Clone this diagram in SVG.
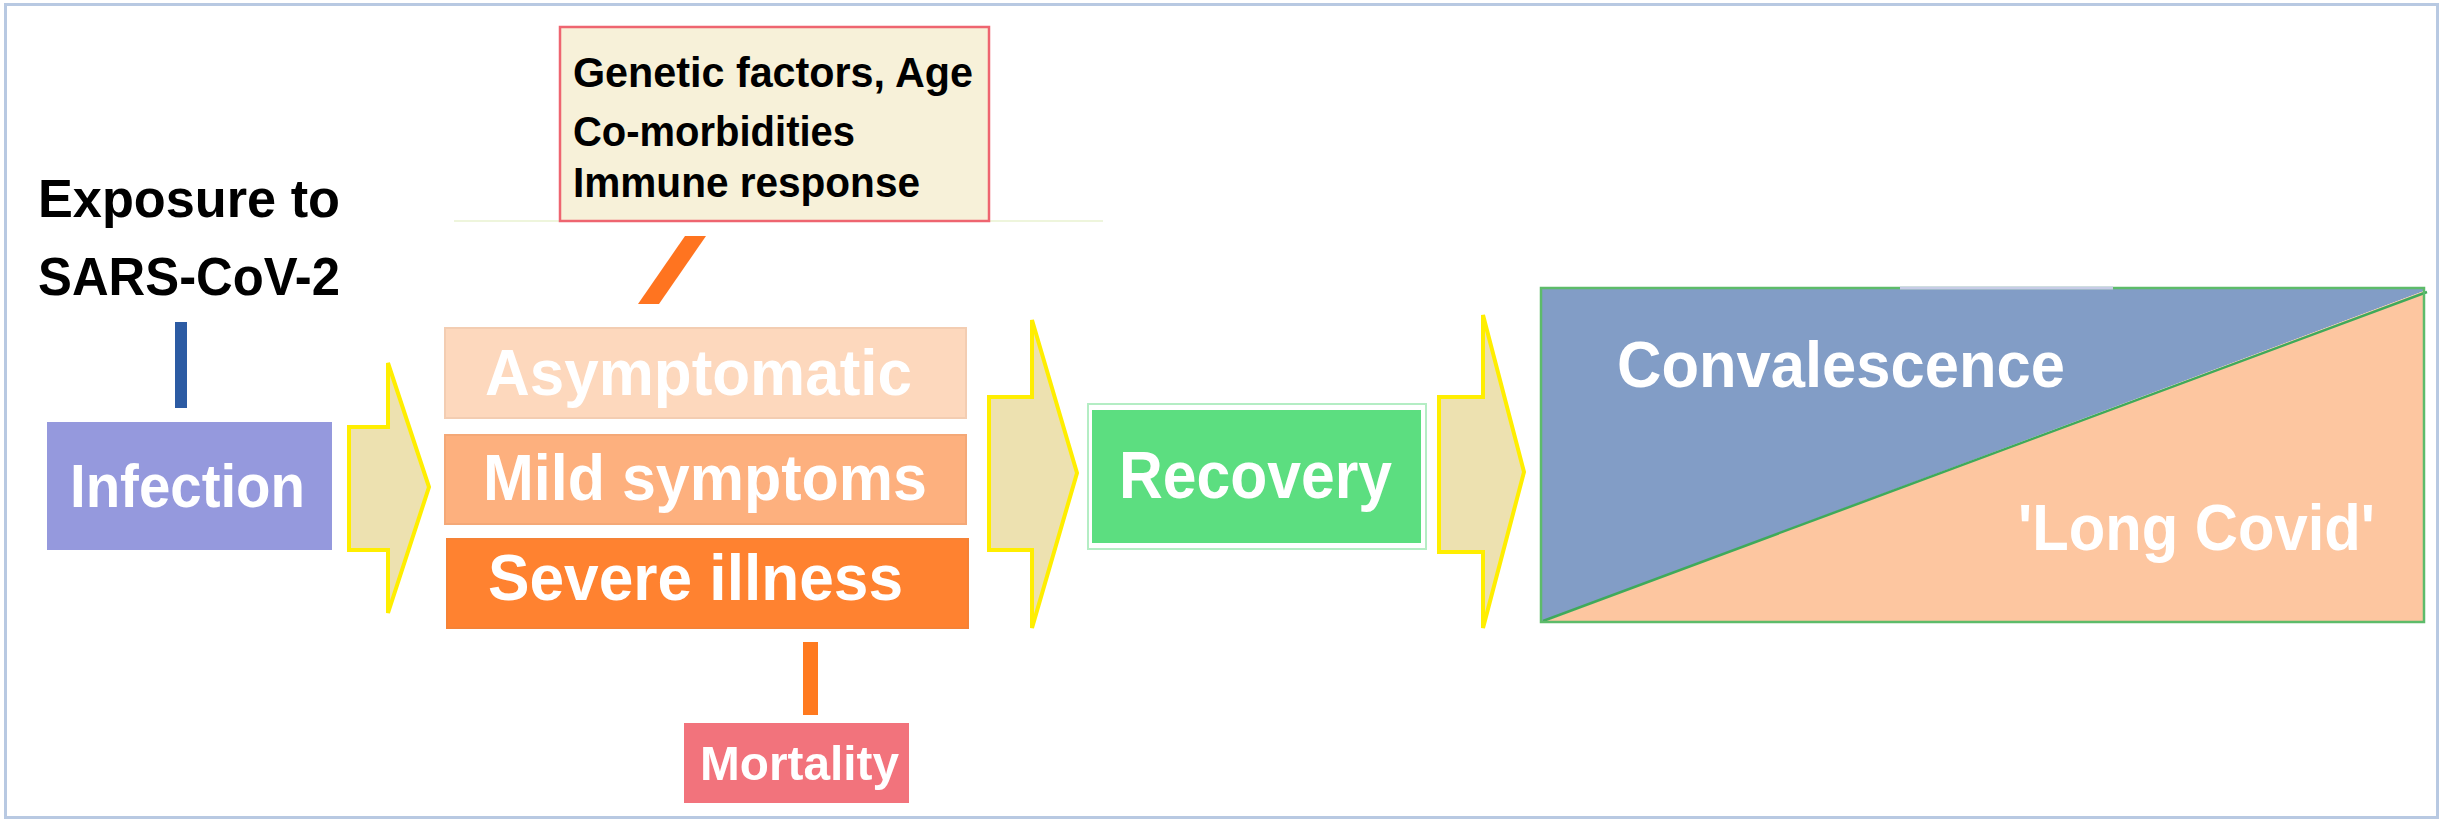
<svg xmlns="http://www.w3.org/2000/svg" width="2453" height="821" viewBox="0 0 2453 821">
<style>
.t{font-family:"Liberation Sans",Arial,sans-serif;font-weight:bold}
.w{fill:#ffffff}
.k{fill:#000000}
.arr{fill:#EDE1B0;stroke:#FFEE00;stroke-width:4;stroke-linejoin:miter}
</style>
<rect x="0" y="0" width="2453" height="821" fill="#ffffff"/>
<rect x="5.5" y="4.5" width="2432" height="813" fill="none" stroke="#B8C9E2" stroke-width="3"/>
<line x1="454" y1="221" x2="1103" y2="221" stroke="#EEF5DC" stroke-width="2"/>

<g id="exposure">
<text class="t k" x="38" y="217" font-size="54" textLength="302" lengthAdjust="spacingAndGlyphs">Exposure to</text>
<text class="t k" x="38" y="295" font-size="54" textLength="302" lengthAdjust="spacingAndGlyphs">SARS-CoV-2</text>
</g>

<g id="factors">
<rect x="560" y="27" width="429" height="194" fill="#F7F1D9" stroke="#EE6570" stroke-width="2.5"/>
<text class="t k" x="573" y="87" font-size="42" textLength="400" lengthAdjust="spacingAndGlyphs">Genetic factors, Age</text>
<text class="t k" x="573" y="146" font-size="42" textLength="282" lengthAdjust="spacingAndGlyphs">Co-morbidities</text>
<text class="t k" x="573" y="197" font-size="42" textLength="347" lengthAdjust="spacingAndGlyphs">Immune response</text>
</g>

<g id="infection">
<rect x="47" y="422" width="285" height="128" fill="#9599DD"/>
<text class="t w" x="70" y="507" font-size="61" textLength="235" lengthAdjust="spacingAndGlyphs">Infection</text>
</g>

<g id="asymptomatic">
<rect x="445" y="328" width="521" height="90" fill="#FDD8BD" stroke="#F3CDB2" stroke-width="2"/>
<text class="t w" x="485" y="395" font-size="65" textLength="427" lengthAdjust="spacingAndGlyphs">Asymptomatic</text>
</g>
<g id="mild">
<rect x="445" y="435" width="521" height="89" fill="#FDB07E" stroke="#F4A877" stroke-width="2"/>
<text class="t w" x="483" y="500" font-size="65" textLength="444" lengthAdjust="spacingAndGlyphs">Mild symptoms</text>
</g>
<g id="severe">
<rect x="447" y="539" width="521" height="89" fill="#FF8230" stroke="#F58236" stroke-width="2"/>
<text class="t w" x="488" y="600" font-size="65" textLength="415" lengthAdjust="spacingAndGlyphs">Severe illness</text>
</g>

<g id="mortality">
<rect x="684" y="723" width="225" height="80" fill="#F2737C"/>
<text class="t w" x="700" y="780" font-size="49" textLength="199" lengthAdjust="spacingAndGlyphs">Mortality</text>
</g>

<g id="recovery">
<rect x="1088" y="404" width="338" height="145" fill="#ffffff" stroke="#B4EDC4" stroke-width="2"/>
<rect x="1092" y="410" width="329" height="133" fill="#5CDE80"/>
<text class="t w" x="1119" y="498" font-size="66" textLength="273" lengthAdjust="spacingAndGlyphs">Recovery</text>
</g>

<g id="convalescence">
<polygon points="1541,288 2424,288 2424,291 1543,621 1541,621" fill="#829DC6"/>
<polygon points="2424,291 2424,622 1543,622" fill="#FDC6A0"/>
<line x1="1543" y1="621" x2="2427" y2="292" stroke="#3FAA5A" stroke-width="2.5"/>
<rect x="1541" y="288" width="883" height="334" fill="none" stroke="#5DBB6A" stroke-width="2.5"/>
<line x1="1900" y1="288" x2="2113" y2="288" stroke="#C7CCE6" stroke-width="3"/>
<text class="t w" x="1617" y="387" font-size="65" textLength="448" lengthAdjust="spacingAndGlyphs">Convalescence</text>
<text class="t w" x="2018" y="550" font-size="65" textLength="357" lengthAdjust="spacingAndGlyphs">'Long Covid'</text>
</g>

<g id="connectors">
<rect x="175" y="322" width="12" height="86" fill="#2C5BA3"/>
<polygon points="685,236 706,236 659,304 638,304" fill="#FF7420"/>
<rect x="803" y="642" width="15" height="73" fill="#FF7A1F"/>
<polygon class="arr" points="349,427 388,427 388,363 429,487 388,613 388,550 349,550"/>
<polygon class="arr" points="989,397 1032,397 1032,320 1077,473 1032,628 1032,550 989,550"/>
<polygon class="arr" points="1439,397 1483,397 1483,315 1524,472 1483,628 1483,552 1439,552"/>
</g>
</svg>
